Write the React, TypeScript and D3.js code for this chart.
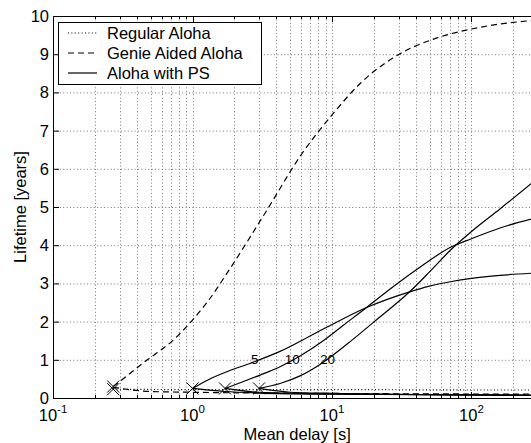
import React, { useEffect, useRef } from 'react'
import { select, scaleLog, scaleLinear, line, curveMonotoneX } from 'd3'

// x values in seconds, y values in years
const regularX = [0.27, 1, 10, 100, 316]
const regularY = [0.23, 0.22, 0.22, 0.21, 0.21]

const genieX = [0.27, 0.35, 0.44, 0.5, 0.73, 1.0, 1.3, 1.86, 3.3, 6.1, 10, 16, 31, 56, 100, 250, 316]
const genieY = [0.3, 0.62, 0.91, 1.06, 1.52, 2.04, 2.55, 3.39, 4.83, 6.4, 7.41, 8.24, 9.02, 9.42, 9.66, 9.87, 9.9]
const genieLowX = [0.27, 0.5, 1, 10, 316]
const genieLowY = [0.28, 0.17, 0.15, 0.12, 0.1]

const ps5X = [1.0, 1.3, 1.8, 2.6, 4.24, 8.6, 17.7, 36, 50, 72, 100, 160, 316]
const ps5Y = [0.25, 0.48, 0.7, 0.91, 1.22, 1.8, 2.37, 2.78, 2.93, 3.05, 3.13, 3.21, 3.28]
const ps10X = [1.71, 2.2, 3.05, 4.24, 5.9, 8.65, 12, 17.7, 25, 40, 72, 100, 160, 316]
const ps10Y = [0.25, 0.4, 0.6, 0.82, 1.1, 1.5, 1.9, 2.37, 2.8, 3.35, 3.96, 4.17, 4.45, 4.75]
const ps20X = [3.0, 4.24, 5.9, 8.2, 12.7, 19.8, 36, 50, 72, 100, 160, 316]
const ps20Y = [0.25, 0.38, 0.58, 0.88, 1.4, 1.98, 2.78, 3.3, 3.9, 4.36, 4.95, 5.83]

const ps5LowX = [1.0, 1.7, 3, 10, 100, 316]
const ps5LowY = [0.25, 0.17, 0.13, 0.1, 0.08, 0.07]
const ps10LowX = [1.71, 3, 10, 100, 316]
const ps10LowY = [0.25, 0.15, 0.11, 0.08, 0.07]
const ps20LowX = [3.0, 5, 10, 100, 316]
const ps20LowY = [0.25, 0.15, 0.12, 0.08, 0.07]

const markersX = [0.27, 0.27, 1.0, 1.71, 3.0]
const markersY = [0.3, 0.23, 0.25, 0.25, 0.25]

const psLabels = ['5', '10', '20']
const psLabelX = [2.8, 5.2, 9.3]
const psLabelY = [0.88, 0.88, 0.88]

const yTicks = [0, 1, 2, 3, 4, 5, 6, 7, 8, 9, 10]
const xMajor = [0.1, 1, 10, 100]
const xMajorExp = ['-1', '0', '1', '2']
const xMinor = [0.2, 0.3, 0.4, 0.5, 0.6, 0.7, 0.8, 0.9, 2, 3, 4, 5, 6, 7, 8, 9,
  20, 30, 40, 50, 60, 70, 80, 90, 200, 300]

const legendNames = ['Regular Aloha', 'Genie Aided Aloha', 'Aloha with PS']
const legendDash = ['1 2.4', '6 4', null]

const FONT = '"Liberation Sans", Arial, Helvetica, sans-serif'
const W = 531
const H = 443
const left = 53
const top = 16
const bottom = 398
const right = 53 + 139.5 * 3.5

const zip = (xs, ys) => xs.map((x, i) => [x, ys[i]])

const App = () => {
  const svgRef = useRef()

  useEffect(() => {
    const svg = select(svgRef.current)
    svg.selectAll('*').remove()

    const xScale = scaleLog().domain([0.1, Math.pow(10, 2.5)]).range([left, right])
    const yScale = scaleLinear().domain([0, 10]).range([bottom, top])

    svg.append('defs').append('clipPath').attr('id', 'plot')
      .append('rect').attr('x', left).attr('y', top)
      .attr('width', right - left).attr('height', bottom - top)

    // grid
    const grid = svg.append('g').attr('stroke', '#777').attr('stroke-width', 1)
      .attr('stroke-dasharray', '1 2.4')
    grid.selectAll('.gy').data(yTicks.slice(1, -1)).join('line')
      .attr('x1', left).attr('x2', right)
      .attr('y1', d => yScale(d) + 0.5).attr('y2', d => yScale(d) + 0.5)
    grid.selectAll('.gx').data(xMinor.concat(xMajor.slice(1))).join('line')
      .attr('x1', d => Math.round(xScale(d)) + 0.5).attr('x2', d => Math.round(xScale(d)) + 0.5)
      .attr('y1', top).attr('y2', bottom)

    // curves
    const path = line()
      .x(d => xScale(d[0]))
      .y(d => yScale(d[1]))
      .curve(curveMonotoneX)

    const series = [
      { data: zip(regularX, regularY), dash: '1 2.4' },
      { data: zip(genieX, genieY), dash: '6 4' },
      { data: zip(genieLowX, genieLowY), dash: '6 4' },
      { data: zip(ps5X, ps5Y), dash: null },
      { data: zip(ps10X, ps10Y), dash: null },
      { data: zip(ps20X, ps20Y), dash: null },
      { data: zip(ps5LowX, ps5LowY), dash: null },
      { data: zip(ps10LowX, ps10LowY), dash: null },
      { data: zip(ps20LowX, ps20LowY), dash: null }
    ]
    const curves = svg.append('g').attr('clip-path', 'url(#plot)')
    curves.selectAll('path').data(series).join('path')
      .attr('d', s => path(s.data))
      .attr('fill', 'none')
      .attr('stroke', '#000')
      .attr('stroke-width', 1.2)
      .attr('stroke-dasharray', s => s.dash)

    // X markers
    const markers = zip(markersX, markersY)
    const mk = svg.append('g').attr('stroke', '#000').attr('stroke-width', 1)
    mk.selectAll('.m1').data(markers).join('line')
      .attr('x1', d => xScale(d[0]) - 6).attr('x2', d => xScale(d[0]) + 6)
      .attr('y1', d => yScale(d[1]) - 6).attr('y2', d => yScale(d[1]) + 6)
    mk.selectAll('.m2').data(markers).join('line')
      .attr('x1', d => xScale(d[0]) - 6).attr('x2', d => xScale(d[0]) + 6)
      .attr('y1', d => yScale(d[1]) + 6).attr('y2', d => yScale(d[1]) - 6)

    svg.append('g').selectAll('text').data(psLabels).join('text')
      .attr('x', (d, i) => xScale(psLabelX[i]))
      .attr('y', (d, i) => yScale(psLabelY[i]))
      .attr('text-anchor', 'middle')
      .attr('font-family', FONT).attr('font-size', 13.5)
      .text(d => d)

    // axes box
    const ax = svg.append('g').attr('stroke', '#000').attr('stroke-width', 1)
    ax.append('line').attr('x1', left + 0.5).attr('x2', left + 0.5).attr('y1', top).attr('y2', bottom + 0.5)
    ax.append('line').attr('x1', left).attr('x2', right).attr('y1', bottom + 0.5).attr('y2', bottom + 0.5)
    ax.append('line').attr('x1', left).attr('x2', right).attr('y1', top + 0.5).attr('y2', top + 0.5)

    ax.selectAll('.yt').data(yTicks).join('line')
      .attr('x1', left).attr('x2', left + 6)
      .attr('y1', d => yScale(d) + 0.5).attr('y2', d => yScale(d) + 0.5)
    const xTick = (vals, len) => {
      ax.selectAll(null).data(vals).join('line')
        .attr('x1', d => Math.round(xScale(d)) + 0.5).attr('x2', d => Math.round(xScale(d)) + 0.5)
        .attr('y1', bottom).attr('y2', bottom - len)
      ax.selectAll(null).data(vals).join('line')
        .attr('x1', d => Math.round(xScale(d)) + 0.5).attr('x2', d => Math.round(xScale(d)) + 0.5)
        .attr('y1', top).attr('y2', top + len)
    }
    xTick(xMajor, 6)
    xTick(xMinor, 3)

    // tick labels
    svg.append('g').selectAll('text').data(yTicks).join('text')
      .attr('x', 49).attr('y', d => yScale(d) + 6)
      .attr('text-anchor', 'end')
      .attr('font-family', FONT).attr('font-size', 16.5)
      .text(d => d)

    const xl = svg.append('g').selectAll('text').data(xMajor).join('text')
      .attr('x', d => xScale(d)).attr('y', 421)
      .attr('text-anchor', 'middle')
      .attr('font-family', FONT).attr('font-size', 16.5)
    xl.append('tspan').text('10')
    xl.append('tspan').attr('dy', -8).attr('font-size', 11.5).text((d, i) => xMajorExp[i])

    svg.append('text').attr('x', (left + right) / 2).attr('y', 440)
      .attr('text-anchor', 'middle')
      .attr('font-family', FONT).attr('font-size', 16.5)
      .text('Mean delay [s]')
    svg.append('text')
      .attr('transform', `translate(26,${(top + bottom) / 2}) rotate(-90)`)
      .attr('text-anchor', 'middle')
      .attr('font-family', FONT).attr('font-size', 16.5)
      .text('Lifetime [years]')

    // legend
    const lg = svg.append('g')
    lg.append('rect').attr('x', 58.5).attr('y', 22.5).attr('width', 203).attr('height', 62)
      .attr('fill', '#fff').attr('stroke', '#000').attr('stroke-width', 1)
    legendNames.forEach((name, i) => {
      const y = 33 + i * 20
      lg.append('line').attr('x1', 68).attr('x2', 97).attr('y1', y).attr('y2', y)
        .attr('stroke', '#000').attr('stroke-width', 1.2)
        .attr('stroke-dasharray', legendDash[i])
      lg.append('text').attr('x', 107).attr('y', y + 6)
        .attr('font-family', FONT).attr('font-size', 16.5)
        .text(name)
    })
  }, [])

  return <svg ref={svgRef} width={W} height={H}
    style={{ position: 'absolute', left: 0, top: 0, background: '#fff' }} />
}

export default App
